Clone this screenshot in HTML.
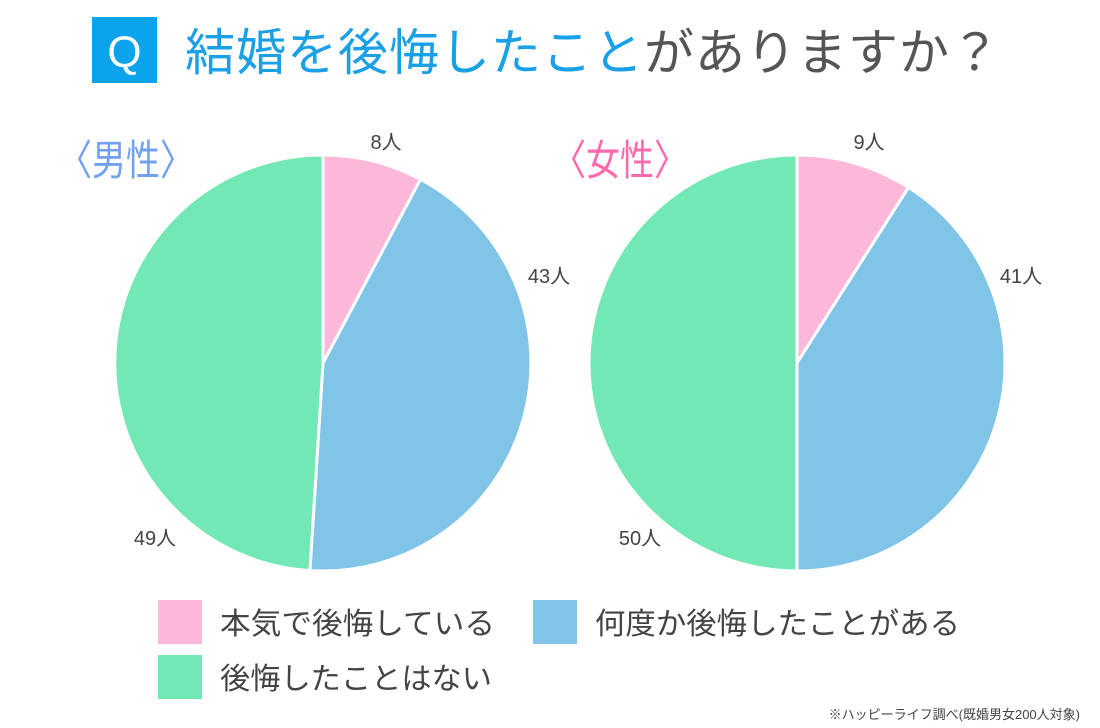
<!DOCTYPE html>
<html><head><meta charset="utf-8"><style>
html,body{margin:0;padding:0;background:#fff;}
svg{display:block;font-family:"Liberation Sans","Noto Sans CJK JP",sans-serif;}
</style></head><body>
<svg width="1100" height="728" viewBox="0 0 1100 728" xmlns="http://www.w3.org/2000/svg">
<rect x="92" y="17" width="65" height="66" fill="#0aa3ec"/>
<text x="124.5" y="67" font-size="44" fill="#fff" text-anchor="middle">Q</text>
<text x="185" y="70" font-size="50" textLength="815" lengthAdjust="spacing"><tspan fill="#1aa0e6">結婚を後悔したこと</tspan><tspan fill="#555">がありますか？</tspan></text>
<text x="58" y="175" font-size="42" fill="#72a0f2" textLength="136" lengthAdjust="spacingAndGlyphs">〈男性〉</text>
<text x="552" y="175" font-size="42" fill="#ff6aae" textLength="136" lengthAdjust="spacingAndGlyphs">〈女性〉</text>
<g stroke="#fff" stroke-width="3" stroke-linejoin="round">
<path d="M323,363 L323,155 A208,208 0 0 1 420.5,179.3 Z" fill="#fbb8d9"/>
<path d="M323,363 L420.5,179.3 A208,208 0 0 1 309.9,570.6 Z" fill="#80c5e8"/>
<path d="M323,363 L309.9,570.6 A208,208 0 0 1 323,155 Z" fill="#72e8b4"/>
<path d="M797,363 L797,155 A208,208 0 0 1 908.5,187.4 Z" fill="#fbb8d9"/>
<path d="M797,363 L908.5,187.4 A208,208 0 0 1 797,571 Z" fill="#80c5e8"/>
<path d="M797,363 L797,571 A208,208 0 0 1 797,155 Z" fill="#72e8b4"/>
</g>
<g font-size="20" fill="#444" text-anchor="middle">
<text x="386" y="149">8人</text>
<text x="549" y="283">43人</text>
<text x="155" y="545">49人</text>
<text x="869" y="149">9人</text>
<text x="1021" y="283">41人</text>
<text x="640" y="545">50人</text>
</g>
<rect x="158" y="600" width="44" height="44" fill="#fbb8d9"/>
<rect x="533" y="600" width="44" height="44" fill="#80c5e8"/>
<rect x="158" y="655" width="44" height="44" fill="#72e8b4"/>
<g font-size="30" fill="#444">
<text x="220" y="634" textLength="275" lengthAdjust="spacingAndGlyphs">本気で後悔している</text>
<text x="595" y="634" textLength="365" lengthAdjust="spacingAndGlyphs">何度か後悔したことがある</text>
<text x="220" y="689" textLength="272" lengthAdjust="spacingAndGlyphs">後悔したことはない</text>
</g>
<text x="1080" y="719" font-size="13" fill="#444" text-anchor="end">※ハッピーライフ調べ(既婚男女200人対象)</text>
</svg>
</body></html>
